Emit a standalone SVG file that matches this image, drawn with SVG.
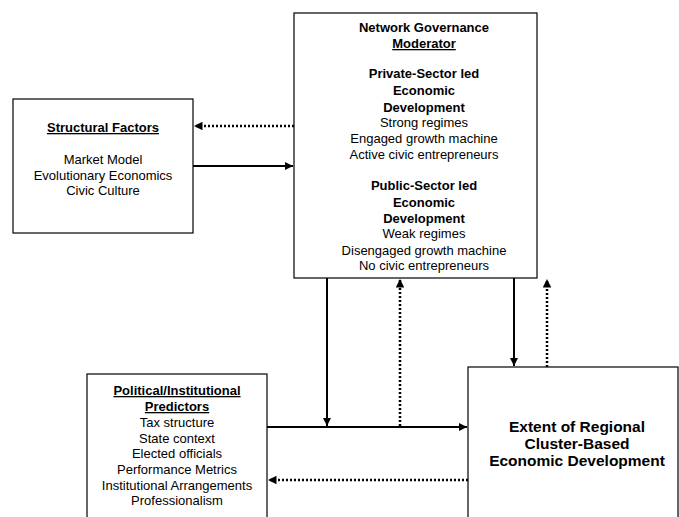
<svg xmlns="http://www.w3.org/2000/svg" width="679" height="517" viewBox="0 0 679 517">
<style>
.box{fill:#fff;stroke:#000;stroke-width:1.2}
text{font-family:"Liberation Sans",Arial,sans-serif;font-size:13px;fill:#000;text-anchor:middle}
.b{font-weight:bold}
.u{text-decoration:underline}
.big{font-size:15.5px;font-weight:bold}
.solid{stroke:#000;stroke-width:2;fill:none}
.dot{stroke:#000;stroke-width:2.5;stroke-dasharray:2 2;fill:none}
</style>
<defs>
<marker id="ah" viewBox="0 0 10 10" refX="10" refY="5" markerWidth="4" markerHeight="4" orient="auto" markerUnits="strokeWidth">
<path d="M0,0 L10,5 L0,10 z" fill="#000"/>
</marker>
<marker id="ahd" viewBox="0 0 10 10" refX="10" refY="5" markerWidth="3.4" markerHeight="3.4" orient="auto" markerUnits="strokeWidth">
<path d="M0,0 L10,5 L0,10 z" fill="#000"/>
</marker>
</defs>
<g id="connectors">
<line class="dot" x1="294" y1="126" x2="194" y2="126" marker-end="url(#ahd)"/>
<line class="solid" x1="193" y1="166" x2="293" y2="166" marker-end="url(#ah)"/>
<line class="solid" x1="327" y1="278" x2="327" y2="426" marker-end="url(#ah)"/>
<line class="solid" x1="267" y1="427" x2="467" y2="427" marker-end="url(#ah)"/>
<line class="dot" x1="400" y1="426" x2="400" y2="279" marker-end="url(#ahd)"/>
<line class="solid" x1="514" y1="278" x2="514" y2="366" marker-end="url(#ah)"/>
<line class="dot" x1="547" y1="367" x2="547" y2="279" marker-end="url(#ahd)"/>
<line class="dot" x1="468" y1="480" x2="268" y2="480" marker-end="url(#ahd)"/>
</g>
<g id="structural">
<rect class="box" x="13" y="99" width="180" height="134"/>
<text x="103" y="132" class="b u">Structural Factors</text>
<text x="103" y="164">Market Model</text>
<text x="103" y="180">Evolutionary Economics</text>
<text x="103" y="195">Civic Culture</text>
</g>
<g id="network">
<rect class="box" x="294" y="13" width="243" height="265"/>
<text x="424" y="32" class="b">Network Governance</text>
<text x="424" y="48" class="b u">Moderator</text>
<text x="424" y="78" class="b">Private-Sector led</text>
<text x="424" y="95" class="b">Economic</text>
<text x="424" y="112" class="b">Development</text>
<text x="424" y="127">Strong regimes</text>
<text x="424" y="143">Engaged growth machine</text>
<text x="424" y="159">Active civic entrepreneurs</text>
<text x="424" y="190" class="b">Public-Sector led</text>
<text x="424" y="207" class="b">Economic</text>
<text x="424" y="223" class="b">Development</text>
<text x="424" y="238">Weak regimes</text>
<text x="424" y="255">Disengaged growth machine</text>
<text x="424" y="270">No civic entrepreneurs</text>
</g>
<g id="political">
<rect class="box" x="87" y="374" width="180" height="150"/>
<text x="177" y="395" class="b u">Political/Institutional</text>
<text x="177" y="411" class="b u">Predictors</text>
<text x="177" y="427">Tax structure</text>
<text x="177" y="443">State context</text>
<text x="177" y="458">Elected officials</text>
<text x="177" y="474">Performance Metrics</text>
<text x="177" y="490">Institutional Arrangements</text>
<text x="177" y="505">Professionalism</text>
</g>
<g id="extent">
<rect class="box" x="468" y="367" width="210" height="160"/>
<text x="577" y="432" class="big">Extent of Regional</text>
<text x="577" y="449" class="big">Cluster-Based</text>
<text x="577" y="466" class="big">Economic Development</text>
</g>
</svg>
